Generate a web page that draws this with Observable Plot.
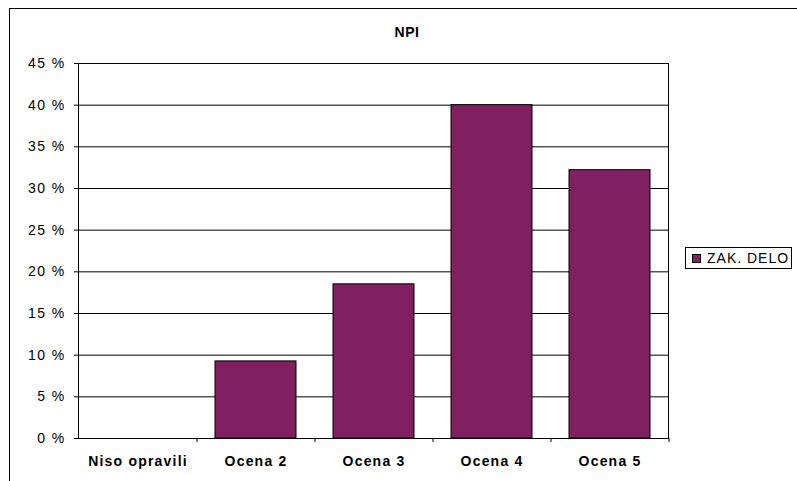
<!DOCTYPE html>
<html>
<head>
<meta charset="utf-8">
<script src="https://cdn.jsdelivr.net/npm/d3@7"></script>
<script src="https://cdn.jsdelivr.net/npm/@observablehq/plot@0.6"></script>
<style>
  html, body { margin: 0; padding: 0; background: #fff; overflow: hidden; }
  body { width: 797px; height: 481px; position: relative; font-family: "Liberation Sans", Arial, sans-serif; }
  #border { position: absolute; left: 9px; top: 8px; width: 900px; height: 600px; border-top: 1px solid #000; border-left: 1px solid #000; }
  #chart { position: absolute; left: 0; top: 0; }
  #title { position: absolute; left: 0; width: 814px; top: 24px; text-align: center; font-weight: bold; font-size: 14px; letter-spacing: 0.5px; }
  #legend { position: absolute; left: 685px; top: 247px; width: 107px; height: 22px; border: 1px solid #000; background: #fff; font-size: 14px; letter-spacing: 1px; box-sizing: border-box; }
  #legend .sw { position: absolute; left: 6px; top: 6px; width: 9px; height: 9px; background: #802060; border: 1px solid #000; box-sizing: border-box; }
  #legend .lb { position: absolute; left: 21px; top: 2px; white-space: nowrap; }
  g[aria-label="x-axis tick label"] text { letter-spacing: 1.2px; }
  g[aria-label="y-axis tick label"] text { letter-spacing: 1.4px; }
</style>
</head>
<body>
<div id="border"></div>
<div id="chart"></div>
<div id="title">NPI</div>
<div id="legend"><div class="sw"></div><div class="lb">ZAK. DELO</div></div>
<script>
const categories = ["Niso opravili", "Ocena 2", "Ocena 3", "Ocena 4", "Ocena 5"];
const values = [0, 9.25, 18.5, 40.0, 32.2];
const yTicks = [0, 5, 10, 15, 20, 25, 30, 35, 40, 45];
const seriesName = "ZAK. DELO";

const data = categories.map((c, i) => ({category: c, value: values[i], series: seriesName}));

const W = 797, H = 481;
const mL = 78, mR = 129, mT = 63, mB = 43;
const step = (W - mL - mR) / categories.length;

const chart = Plot.plot({
  width: W,
  height: H,
  marginLeft: mL,
  marginRight: mR,
  marginTop: mT,
  marginBottom: mB,
  style: {fontFamily: "'Liberation Sans', Arial, sans-serif", fontSize: "14px", background: "transparent", color: "#000"},
  x: {domain: categories, paddingInner: 0.314, paddingOuter: 0.157, label: null},
  y: {domain: [0, 45], label: null},
  marks: [
    Plot.ruleY(yTicks, {stroke: "#000", strokeWidth: 1, strokeOpacity: 1}),
    Plot.barY(data, {x: "category", y: "value", fill: "#802060", stroke: "#000", strokeWidth: 1}),
    Plot.frame({stroke: "#000", strokeWidth: 1}),
    Plot.ruleX([0], {frameAnchor: "left", stroke: "#000", strokeWidth: 1.5}),
    Plot.axisY({ticks: yTicks, tickSize: 4, tickPadding: 9, tickFormat: d => d + " %", stroke: "#000", fontSize: 14}),
    Plot.axisX({tickSize: 0, tickPadding: 18, fontWeight: "bold", fontSize: 14}),
    Plot.axisX({tickSize: 4, tickFormat: () => "", dx: step / 2, stroke: "#000"})
  ]
});
document.getElementById("chart").appendChild(chart);
</script>
</body>
</html>
